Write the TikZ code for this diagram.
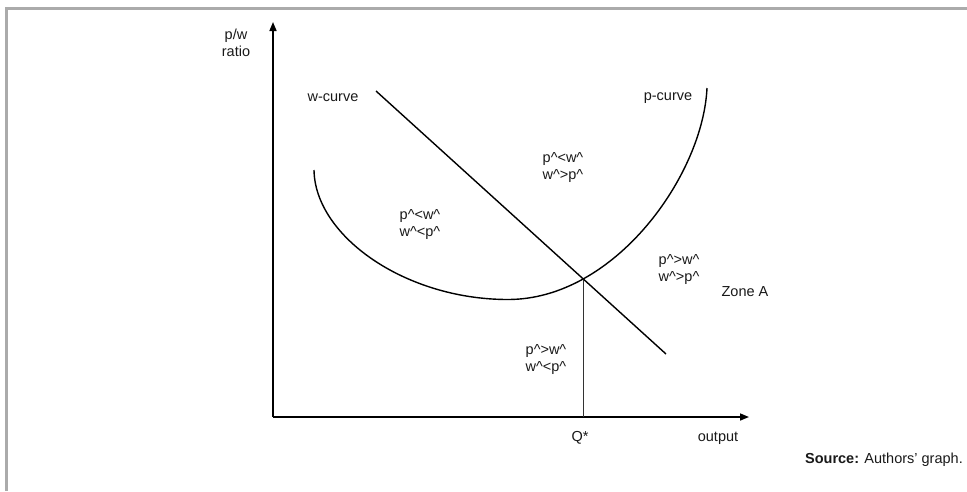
\documentclass[tikz,border=0pt]{standalone}
\usepackage{fontspec}
\setmainfont{Liberation Sans}
\usetikzlibrary{arrows.meta}
\begin{document}
\begin{tikzpicture}[x=1pt,y=-1pt,
  lbl/.style={inner sep=0pt,align=center,text=black!90,font=\fontsize{14.5}{17}\selectfont},
  axis/.style={line width=1.6pt,-{Triangle[length=9pt,width=7pt]}},
  curve/.style={line width=1.4pt},
  frameline/.style={draw=black!33,line width=3pt}]
\useasboundingbox (0,0) rectangle (967,491);
% frame
\draw[frameline] (967,8.5) -- (6.5,8.5) -- (6.5,491);
% axes
\coordinate (O) at (273,417);
\coordinate (ytop) at (273,22);
\coordinate (xend) at (749,417);
\draw[axis] (O) -- (ytop);
\draw[axis] (O) -- (xend);
% w-curve
\coordinate (w1) at (376,91);
\coordinate (w2) at (666,354);
\draw[curve] (w1) -- (w2);
% intersection and Q*
\coordinate (E) at (583,279);
\coordinate (Qb) at (583,417);
\draw[line width=0.9pt,black!80] (E) -- (Qb);
% p-curve
\coordinate (p0) at (314,170);
\coordinate (pmin) at (508,299.5);
\coordinate (p1) at (707,88);
\draw[curve] (p0) .. controls (315,236) and (405,299.5) .. (pmin)
  .. controls (615,299.5) and (703,175) .. (p1);
% labels
\node[lbl] (yl) at (236,43) {p/w\\ratio};
\node[lbl] (wl) at (333,98) {w-curve};
\node[lbl] (pl) at (668,98) {p-curve};
\node[lbl] (r1) at (563,168) {p\^{}<w\^{}\\w\^{}>p\^{}};
\node[lbl] (r2) at (420,225) {p\^{}<w\^{}\\w\^{}<p\^{}};
\node[lbl] (r3) at (679,270) {p\^{}>w\^{}\\w\^{}>p\^{}};
\node[lbl] (za) at (745,292) {Zone A};
\node[lbl] (r4) at (546,360) {p\^{}>w\^{}\\w\^{}<p\^{}};
\node[lbl] (q) at (580,438) {Q*};
\node[lbl] (ox) at (718,438) {output};
\node[lbl,anchor=east] (src) at (963,460) {\textbf{Source:} Authors’ graph.};
\end{tikzpicture}
\end{document}
